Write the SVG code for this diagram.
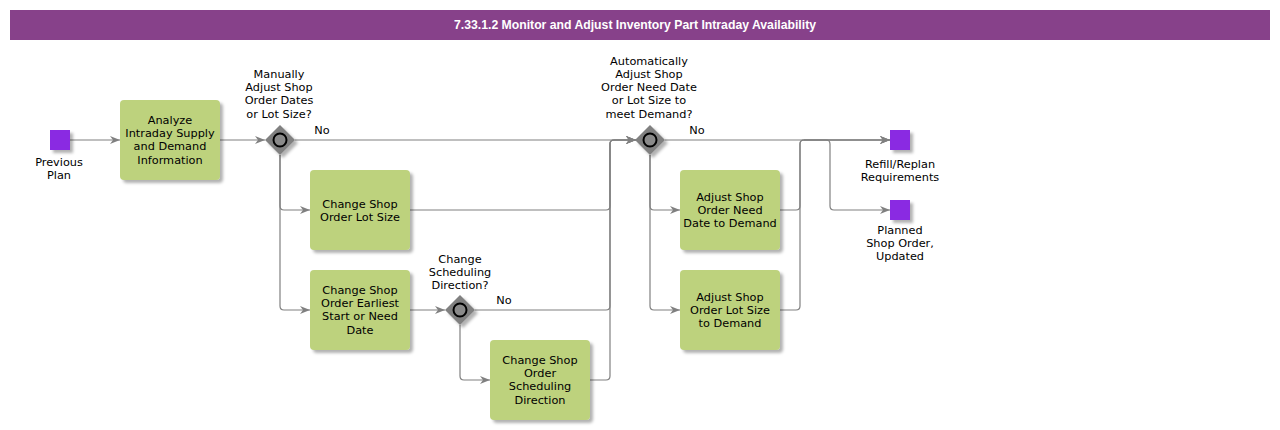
<svg xmlns="http://www.w3.org/2000/svg" width="1280" height="430" viewBox="0 0 1280 430">
<defs>
<filter id="sh" x="-20%" y="-20%" width="150%" height="150%">
<feDropShadow dx="3" dy="3" stdDeviation="1.5" flood-color="#000" flood-opacity="0.3"/>
</filter>
<marker id="arr" viewBox="0 0 10 8" refX="10" refY="4" markerWidth="10" markerHeight="8" markerUnits="userSpaceOnUse" orient="auto">
<path d="M0,0 L10,4 L0,8 L3,4 z" fill="#808080"/>
</marker>
</defs>
<style>
text{font-family:"DejaVu Sans",Verdana,sans-serif;font-size:11.3px;fill:#000;text-anchor:middle}
.title{font-family:"Liberation Sans",Arial,sans-serif;font-weight:bold;font-size:12px;fill:#fff}
.task{fill:#BDD27D;filter:url(#sh)}
.ev{fill:#8A2BE2;filter:url(#sh)}
.gw{fill:#808080;filter:url(#sh)}
.gc{fill:#8a8a8a;stroke:#000;stroke-width:2}
.c{fill:none;stroke:#808080;stroke-width:1.2}
.a{marker-end:url(#arr)}
</style>
<g id="title">
<rect x="10" y="10" width="1260" height="30" fill="#87418A"/>
<text class="title" x="635" y="29" textLength="362" lengthAdjust="spacingAndGlyphs">7.33.1.2 Monitor and Adjust Inventory Part Intraday Availability</text>
</g>
<g id="connectors">
<path class="c a" d="M70,140 H120"/>
<path class="c a" d="M220,140 H265"/>
<path class="c a" d="M295,140 H636"/>
<path class="c a" d="M280,155 V206 Q280,210 284,210 H310"/>
<path class="c a" d="M280,155 V306 Q280,310 284,310 H310"/>
<path class="c a" d="M410,210 H606 Q610,210 610,206 V144 Q610,140 614,140 H636"/>
<path class="c a" d="M410,310 H445"/>
<path class="c a" d="M475,310 H606 Q610,310 610,306 V144 Q610,140 614,140 H636"/>
<path class="c a" d="M460,325 V376 Q460,380 464,380 H490"/>
<path class="c a" d="M590,380 H606 Q610,380 610,376 V144 Q610,140 614,140 H636"/>
<path class="c a" d="M665,140 H890"/>
<path class="c a" d="M650,155 V206 Q650,210 654,210 H680"/>
<path class="c a" d="M650,155 V306 Q650,310 654,310 H680"/>
<path class="c a" d="M780,210 H796 Q800,210 800,206 V144 Q800,140 804,140 H890"/>
<path class="c a" d="M780,310 H796 Q800,310 800,306 V144 Q800,140 804,140 H890"/>
<path class="c a" d="M804,140 H826 Q830,140 830,144 V206 Q830,210 834,210 H890"/>
<text x="322" y="134">No</text>
<text x="697" y="134">No</text>
<text x="504" y="304">No</text>
</g>
<g id="start">
<rect class="ev" x="50" y="130" width="20" height="20"/>
<text x="59" y="166">Previous</text>
<text x="59" y="179">Plan</text>
</g>
<g id="analyze">
<rect class="task" x="120" y="100" width="100" height="80" rx="4"/>
<text x="170" y="124">Analyze</text>
<text x="170" y="137">Intraday Supply</text>
<text x="170" y="150">and Demand</text>
<text x="170" y="164">Information</text>
</g>
<g id="gw1">
<polygon class="gw" points="280,125 295,140 280,155 265,140"/>
<circle class="gc" cx="280" cy="140" r="6.5"/>
<text x="279" y="78">Manually</text>
<text x="279" y="91">Adjust Shop</text>
<text x="279" y="104">Order Dates</text>
<text x="279" y="118">or Lot Size?</text>
</g>
<g id="lotsize">
<rect class="task" x="310" y="170" width="100" height="80" rx="4"/>
<text x="360" y="208">Change Shop</text>
<text x="360" y="221">Order Lot Size</text>
</g>
<g id="earliest">
<rect class="task" x="310" y="270" width="100" height="80" rx="4"/>
<text x="360" y="294">Change Shop</text>
<text x="360" y="307">Order Earliest</text>
<text x="360" y="320">Start or Need</text>
<text x="360" y="334">Date</text>
</g>
<g id="gw3">
<polygon class="gw" points="460,295 475,310 460,325 445,310"/>
<circle class="gc" cx="460" cy="310" r="6.5"/>
<text x="460" y="263">Change</text>
<text x="460" y="276">Scheduling</text>
<text x="460" y="289">Direction?</text>
</g>
<g id="schedDir">
<rect class="task" x="490" y="340" width="100" height="80" rx="4"/>
<text x="540" y="364">Change Shop</text>
<text x="540" y="377">Order</text>
<text x="540" y="390">Scheduling</text>
<text x="540" y="404">Direction</text>
</g>
<g id="gw2">
<polygon class="gw" points="650,125 665,140 650,155 635,140"/>
<circle class="gc" cx="650" cy="140" r="6.5"/>
<text x="649" y="65">Automatically</text>
<text x="649" y="78">Adjust Shop</text>
<text x="649" y="91">Order Need Date</text>
<text x="649" y="104">or Lot Size to</text>
<text x="649" y="118">meet Demand?</text>
</g>
<g id="needDate">
<rect class="task" x="680" y="170" width="100" height="80" rx="4"/>
<text x="730" y="201">Adjust Shop</text>
<text x="730" y="214">Order Need</text>
<text x="730" y="227">Date to Demand</text>
</g>
<g id="adjLot">
<rect class="task" x="680" y="270" width="100" height="80" rx="4"/>
<text x="730" y="301">Adjust Shop</text>
<text x="730" y="314">Order Lot Size</text>
<text x="730" y="327">to Demand</text>
</g>
<g id="end1">
<rect class="ev" x="890" y="130" width="20" height="20"/>
<text x="900" y="168">Refill/Replan</text>
<text x="900" y="181">Requirements</text>
</g>
<g id="end2">
<rect class="ev" x="890" y="200" width="20" height="20"/>
<text x="900" y="234">Planned</text>
<text x="900" y="247">Shop Order,</text>
<text x="900" y="260">Updated</text>
</g>
</svg>
